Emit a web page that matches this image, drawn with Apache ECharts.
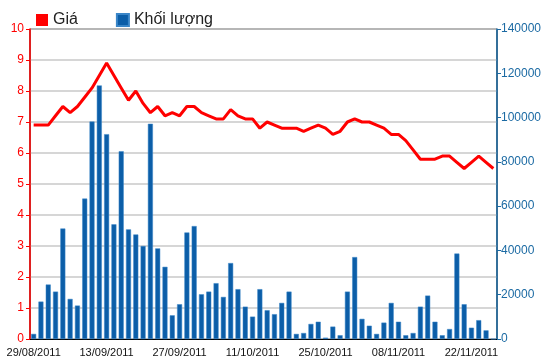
<!DOCTYPE html>
<html>
<head>
<meta charset="utf-8">
<script src="https://cdn.jsdelivr.net/npm/echarts@6/dist/echarts.min.js"></script>
<style>html,body{margin:0;padding:0;background:#fff}#c{width:550px;height:364px}</style>
</head>
<body>
<div id="c"></div>
<script>
const categories = ["29/08/2011","30/08/2011","31/08/2011","01/09/2011","05/09/2011","06/09/2011","07/09/2011","08/09/2011","09/09/2011","12/09/2011",
"13/09/2011","14/09/2011","15/09/2011","16/09/2011","19/09/2011","20/09/2011","21/09/2011","22/09/2011","23/09/2011","26/09/2011",
"27/09/2011","28/09/2011","29/09/2011","30/09/2011","03/10/2011","04/10/2011","05/10/2011","06/10/2011","07/10/2011","10/10/2011",
"11/10/2011","12/10/2011","13/10/2011","14/10/2011","17/10/2011","18/10/2011","19/10/2011","20/10/2011","21/10/2011","24/10/2011",
"25/10/2011","26/10/2011","27/10/2011","28/10/2011","31/10/2011","01/11/2011","02/11/2011","03/11/2011","04/11/2011","07/11/2011",
"08/11/2011","09/11/2011","10/11/2011","11/11/2011","14/11/2011","15/11/2011","16/11/2011","17/11/2011","18/11/2011","21/11/2011",
"22/11/2011","23/11/2011","24/11/2011","25/11/2011"];
const priceValues = [6.9,6.9,6.9,7.2,7.5,7.3,7.5,7.8,8.1,8.5,
8.9,8.5,8.1,7.7,8.0,7.6,7.3,7.5,7.2,7.3,
7.2,7.5,7.5,7.3,7.2,7.1,7.1,7.4,7.2,7.1,
7.1,6.8,7.0,6.9,6.8,6.8,6.8,6.7,6.8,6.9,
6.8,6.6,6.7,7.0,7.1,7.0,7.0,6.9,6.8,6.6,
6.6,6.4,6.1,5.8,5.8,5.8,5.9,5.9,5.7,5.5,
5.7,5.9,5.7,5.5];
const volumeValues = [2300,16900,24600,21400,49900,18100,15100,63400,98200,114500,
92500,51800,84800,49500,47200,42000,97200,40900,32600,10700,
15700,48100,51000,20200,21400,25200,19000,34300,22500,14600,
10100,22500,13000,11200,16300,21400,2300,2700,6800,7800,
600,5600,1700,21400,37000,9100,6000,2300,7400,16300,
7800,1700,2700,14600,19600,7800,1700,4500,38600,15700,
5100,8500,3900,0];
const leftTicks = {min:0, max:10, interval:1};
const rightTicks = {min:0, max:140000, interval:20000};
const seriesNames = ["Giá","Khối lượng"];

const chart = echarts.init(document.getElementById('c'), null, {renderer:'canvas'});
const font = 'Liberation Sans';
chart.setOption({
  animation:false,
  textStyle:{fontFamily:font},
  legend:{
    data:[{name:seriesNames[0], icon:'rect'},{name:seriesNames[1], icon:'rect'}],
    left:31, top:7, itemWidth:12, itemHeight:12, itemGap:38,
    textStyle:{fontFamily:font, fontSize:16, color:'#222'}
  },
  grid:{left:30, right:53, top:29, bottom:25, containLabel:false, outerBoundsMode:'none',
        show:true, borderColor:'#000', borderWidth:1, backgroundColor:'transparent'},
  xAxis:{
    type:'category', data:categories, boundaryGap:true,
    axisLine:{lineStyle:{color:'#000', width:1}},
    axisTick:{alignWithLabel:true, interval:9, length:5, lineStyle:{color:'#000'}},
    axisLabel:{interval:9, color:'#111', fontSize:11, fontFamily:font, margin:8},
    splitLine:{show:false}
  },
  yAxis:[{
    type:'value', min:leftTicks.min, max:leftTicks.max, interval:leftTicks.interval, position:'left',
    name:'Giá (nghìn đồng)', nameLocation:'middle', nameGap:32, nameRotate:90,
    nameTextStyle:{color:'#ff0000', fontSize:13, fontFamily:font},
    axisLine:{show:true, lineStyle:{color:'#ff0000', width:1.5}},
    axisTick:{show:true, length:4, lineStyle:{color:'#ff0000'}},
    axisLabel:{color:'#ff0000', fontSize:12, fontFamily:font, margin:6},
    splitLine:{show:true, lineStyle:{color:'#c8c8c8', width:1.5}}
  },{
    type:'value', min:rightTicks.min, max:rightTicks.max, interval:rightTicks.interval, position:'right',
    axisLine:{show:true, lineStyle:{color:'#1b6aa3', width:1.5}},
    axisTick:{show:true, length:4, lineStyle:{color:'#1b6aa3'}},
    axisLabel:{color:'#1b6aa3', fontSize:12, fontFamily:font, margin:4, formatter:function(v){return String(v);}},
    splitLine:{show:false}
  }],
  series:[{
    name:seriesNames[1], type:'bar', yAxisIndex:1, data:volumeValues, barWidth:5,
    itemStyle:{color:'#0c5ea8', borderColor:'#3a86c8', borderWidth:0.5}, z:2
  },{
    name:seriesNames[0], type:'line', yAxisIndex:0, data:priceValues, showSymbol:false, symbol:'none',
    lineStyle:{color:'#ff0000', width:3}, itemStyle:{color:'#ff0000'}, z:3
  }]
});
</script>
</body>
</html>
